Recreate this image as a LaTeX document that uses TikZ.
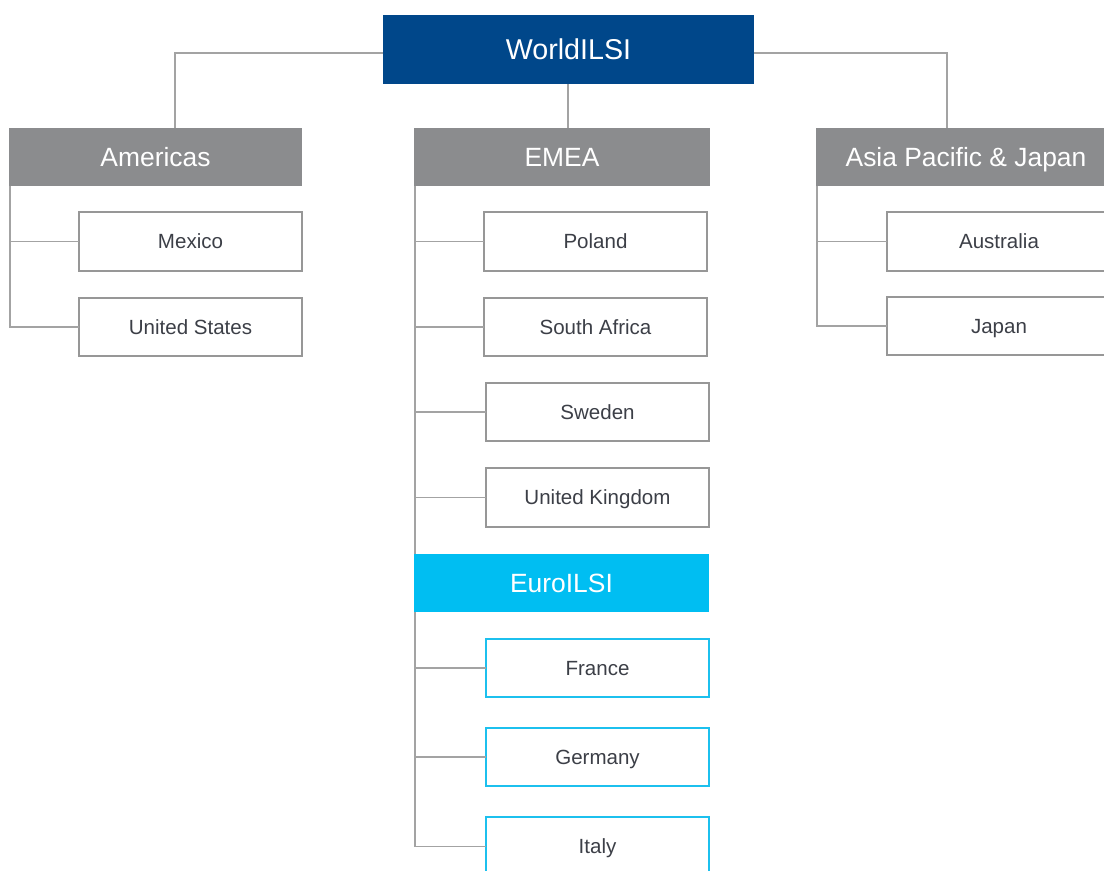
\documentclass[tikz,border=0pt]{standalone}
\usepackage{fontspec}
\setmainfont{Liberation Sans}
\definecolor{navy}{HTML}{00478A}
\definecolor{hdrgray}{HTML}{8B8C8E}
\definecolor{cyanfill}{HTML}{00BEF2}
\definecolor{cyanline}{HTML}{1CC0EE}
\definecolor{boxline}{HTML}{979797}
\definecolor{conn}{HTML}{A3A3A3}
\definecolor{txt}{HTML}{3C3F47}
\newcommand\mybox[6]{\node[#6, minimum width={(#4-#2)*0.75pt}, minimum height={(#5-#3)*0.75pt}] (#1) at ({(#2+#4)/2},{(#3+#5)/2})}
\tikzset{
  base/.style={rectangle, inner sep=0pt, outer sep=0pt, text depth=0pt},
  topbox/.style={base, fill=navy, text=white, font=\fontsize{21.5}{24}\selectfont, text height=15.4pt},
  hdr/.style={base, fill=hdrgray, text=white, font=\fontsize{19.8}{22}\selectfont, text height=14.2pt},
  eurohdr/.style={hdr, fill=cyanfill},
  child/.style={base, draw=boxline, line width=1.5pt, fill=white, text=txt, font=\fontsize{15.4}{18}\selectfont, text height=11pt},
  eurochild/.style={child, draw=cyanline},
  link/.style={draw=conn, line width=1.1pt}
}
\begin{document}
\begin{tikzpicture}[x=0.75pt, y=-0.75pt]
\path[use as bounding box, clip] (0,0) rectangle (1104,871);
\fill[white] (0,0) rectangle (1104,871);
% nodes
\mybox{World}{383}{15}{754}{84}{topbox} {WorldILSI};
\mybox{Amer}{9}{128}{302}{186}{hdr} {Americas};
\mybox{EMEA}{414}{128}{710}{186}{hdr} {EMEA};
\mybox{Asia}{816}{128}{1116}{186}{hdr} {Asia Pacific \& Japan};
\mybox{Mex}{79}{212}{302}{271}{child} {Mexico};
\mybox{US}{79}{298}{302}{356}{child} {United States};
\mybox{Pol}{484}{212}{707}{271}{child} {Poland};
\mybox{SA}{484}{298}{707}{356}{child} {South Africa};
\mybox{Swe}{486}{383}{709}{441}{child} {Sweden};
\mybox{UK}{486}{468}{709}{527}{child} {United Kingdom};
\mybox{Euro}{414}{554}{709}{612}{eurohdr} {EuroILSI};
\mybox{Fra}{486}{639}{709}{697}{eurochild} {France};
\mybox{Ger}{486}{728}{709}{786}{eurochild} {Germany};
\mybox{Ita}{486}{817}{709}{876}{eurochild} {Italy};
\mybox{Aus}{887}{212}{1111}{271}{child} {Australia};
\mybox{Jap}{887}{297}{1111}{355}{child} {Japan};
\coordinate (amtop) at (175,128);
\coordinate (astop) at (947,128);
% connectors
\path[link] ([yshift=-2.6pt]World.west) -| (amtop);
\path[link] ([yshift=-2.6pt]World.east) -| (astop);
\path[link] ([xshift=-0.4pt]World.south) -- ([xshift=-0.4pt]World.south |- EMEA.north);
\path[link] ([xshift=0.75pt]Amer.south west) |- (Mex.west);
\path[link] ([xshift=0.75pt]Amer.south west) |- (US.west);
\path[link] ([xshift=0.75pt]EMEA.south west) |- (Pol.west);
\path[link] ([xshift=0.75pt]EMEA.south west) |- (SA.west);
\path[link] ([xshift=0.75pt]EMEA.south west) |- (Swe.west);
\path[link] ([xshift=0.75pt]EMEA.south west) |- (UK.west);
\path[link] ([xshift=0.75pt]EMEA.south west) -- ([xshift=0.75pt]EMEA.south west |- Euro.north);
\path[link] ([xshift=0.75pt]Euro.south west) |- (Fra.west);
\path[link] ([xshift=0.75pt]Euro.south west) |- (Ger.west);
\path[link] ([xshift=0.75pt]Euro.south west) |- (Ita.west);
\path[link] ([xshift=0.75pt]Asia.south west) |- (Aus.west);
\path[link] ([xshift=0.75pt]Asia.south west) |- (Jap.west);
\end{tikzpicture}
\end{document}
